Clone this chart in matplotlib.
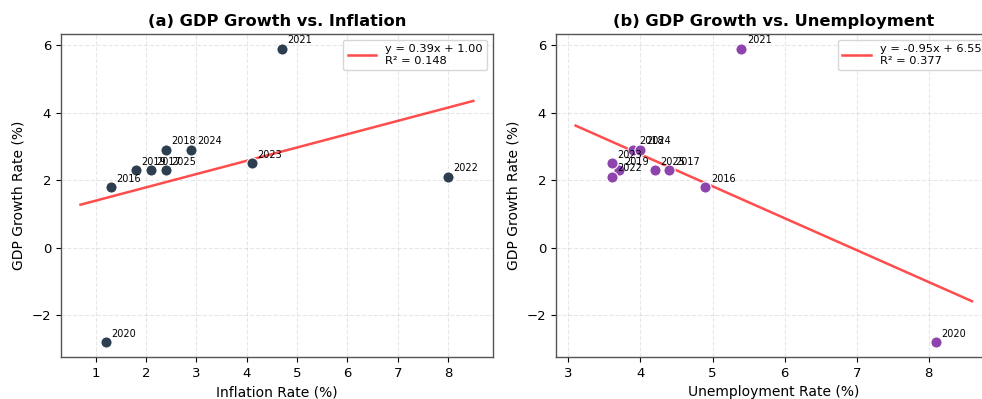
import numpy as np
import matplotlib.pyplot as plt

# Data
years = ['2016', '2017', '2018', '2019', '2020', '2021', '2022', '2023', '2024', '2025']
gdp_growth = [1.8, 2.3, 2.9, 2.3, -2.8, 5.9, 2.1, 2.5, 2.9, 2.3]
inflation = [1.3, 2.1, 2.4, 1.8, 1.2, 4.7, 8.0, 4.1, 2.9, 2.4]
unemployment = [4.9, 4.4, 3.9, 3.7, 8.1, 5.4, 3.6, 3.6, 4.0, 4.2]

fig = plt.figure(figsize=(9.82, 3.99), dpi=100)
ax1 = fig.add_axes([0.062, 0.105, 0.44, 0.81])
ax2 = fig.add_axes([0.566, 0.105, 0.444, 0.81])


def scatter_panel(ax, x, y, color, title, xlabel):
    x = np.array(x)
    y = np.array(y)
    ax.scatter(x, y, s=65, color=color, edgecolors='white', linewidths=0.8, zorder=3)
    for xi, yi, lab in zip(x, y, years):
        ax.annotate(lab, (xi, yi), xytext=(4, 4), textcoords='offset points', fontsize=7)

    m, b = np.polyfit(x, y, 1)
    r2 = np.corrcoef(x, y)[0, 1] ** 2
    xs = np.linspace(x.min() - 0.5, x.max() + 0.5, 100)
    ax.plot(xs, m * xs + b, color='red', alpha=0.7, linewidth=1.8,
            label=f'y = {m:.2f}x + {b:.2f}\nR² = {r2:.3f}')

    ax.set_title(title, fontsize=11.7, fontweight='bold')
    ax.set_xlabel(xlabel, fontsize=10)
    ax.set_ylabel('GDP Growth Rate (%)', fontsize=10)
    ax.tick_params(labelsize=9.5)
    ax.legend(loc='upper right', fontsize=8.2, handlelength=2.5)
    ax.grid(True, linestyle='--', alpha=0.3)
    ax.set_ylim(-3.235, 6.335)
    for sp in ax.spines.values():
        sp.set_color('#555555')
        sp.set_linewidth(1.0)


scatter_panel(ax1, inflation, gdp_growth, '#2c3e50',
              '(a) GDP Growth vs. Inflation', 'Inflation Rate (%)')
scatter_panel(ax2, unemployment, gdp_growth, '#8e44ad',
              '(b) GDP Growth vs. Unemployment', 'Unemployment Rate (%)')

plt.savefig('out.png', dpi=100)
